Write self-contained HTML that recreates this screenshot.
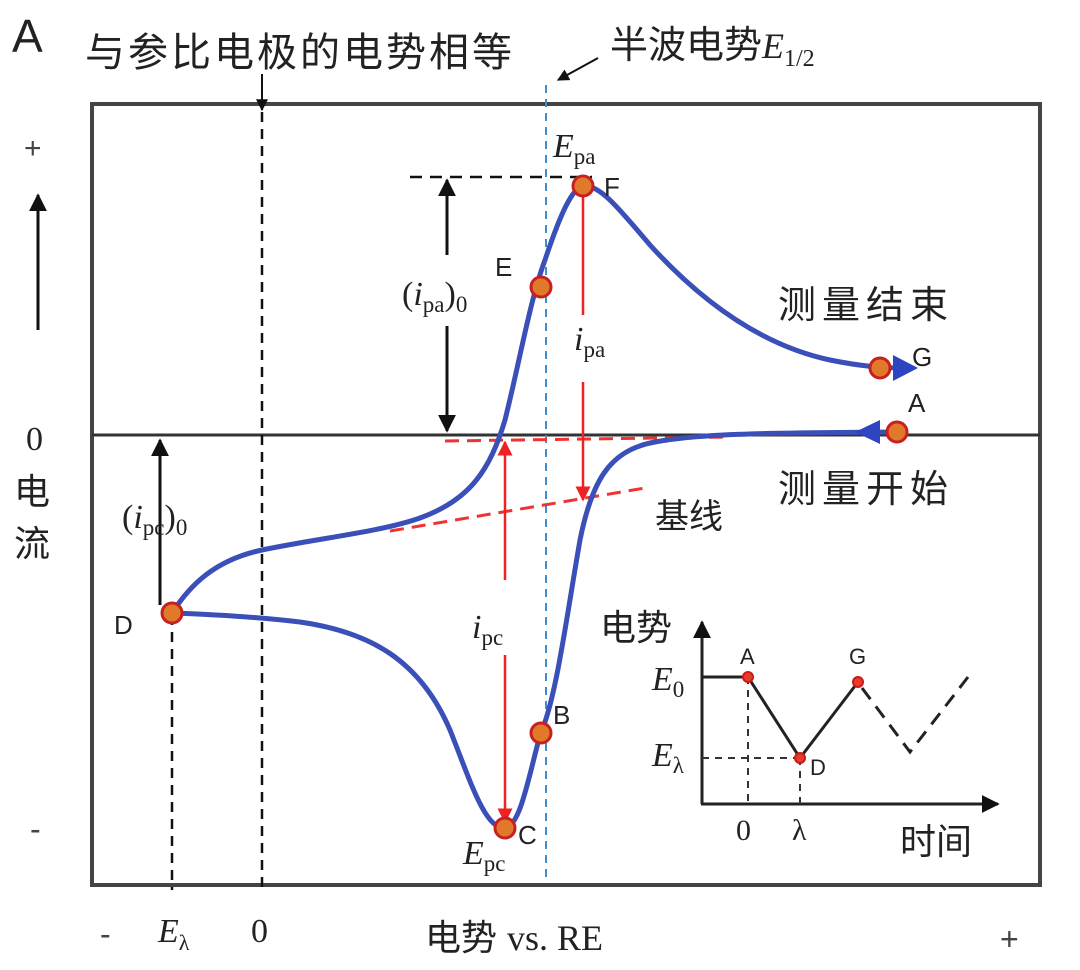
<!DOCTYPE html>
<html><head><meta charset="utf-8"><style>
html,body{margin:0;padding:0;background:#fff}
svg{display:block}
.cn{font-family:"Liberation Sans","Noto Sans CJK SC",sans-serif}
.se{font-family:"Liberation Serif",serif}
.sa{font-family:"Liberation Sans",sans-serif}
</style></head><body>
<svg width="1080" height="970" viewBox="0 0 1080 970" xmlns="http://www.w3.org/2000/svg">
<defs>
<marker id="ab" viewBox="0 0 10 10" refX="9" refY="5" markerWidth="6" markerHeight="6" orient="auto-start-reverse"><path d="M0,0L10,5L0,10z" fill="#111"/></marker>
<marker id="ar" viewBox="0 0 10 10" refX="9" refY="5" markerWidth="6" markerHeight="6" orient="auto-start-reverse"><path d="M0,0L10,5L0,10z" fill="#e22"/></marker>
</defs>
<rect x="92" y="104" width="948" height="781" fill="none" stroke="#444" stroke-width="4"/>
<line x1="92" y1="435" x2="1040" y2="435" stroke="#333" stroke-width="3"/>
<text x="12" y="52" class="sa" font-size="46" fill="#222">A</text>
<text x="85" y="66" class="cn" font-size="40" letter-spacing="3" fill="#222">与参比电极的电势相等</text>
<line x1="262" y1="74" x2="262" y2="110" stroke="#111" stroke-width="2" marker-end="url(#ab)"/>
<text x="610" y="58" class="cn" font-size="38" fill="#222">半波电势<tspan class="se" font-style="italic" font-size="36">E</tspan><tspan class="se" font-size="24" dy="8">1/2</tspan></text>
<line x1="598" y1="58" x2="558" y2="80" stroke="#111" stroke-width="2" marker-end="url(#ab)"/>
<line x1="262" y1="112" x2="262" y2="890" stroke="#111" stroke-width="2.5" stroke-dasharray="10,7"/>
<line x1="172" y1="615" x2="172" y2="890" stroke="#111" stroke-width="2.5" stroke-dasharray="10,7"/>
<line x1="546" y1="85" x2="546" y2="880" stroke="#3a8fd0" stroke-width="2" stroke-dasharray="8,6"/>
<line x1="410" y1="177" x2="592" y2="177" stroke="#111" stroke-width="2.5" stroke-dasharray="12,8"/>
<text x="24" y="158" class="sa" font-size="30" fill="#444">+</text>
<line x1="38" y1="330" x2="38" y2="195" stroke="#111" stroke-width="3" marker-end="url(#ab)"/>
<text x="26" y="450" class="se" font-size="34" fill="#222">0</text>
<text x="14" y="504" class="cn" font-size="36" fill="#222">电</text>
<text x="14" y="556" class="cn" font-size="36" fill="#222">流</text>
<text x="30" y="840" class="sa" font-size="32" fill="#444">-</text>
<text x="100" y="945" class="sa" font-size="32" fill="#444">-</text>
<text x="158" y="942" class="se" font-size="34" font-style="italic" fill="#222">E<tspan font-size="22" font-style="normal" dy="8">λ</tspan></text>
<text x="251" y="942" class="se" font-size="34" fill="#222">0</text>
<text x="425" y="950" class="cn" font-size="36" fill="#222">电势 <tspan class="se">vs. RE</tspan></text>
<text x="1000" y="950" class="sa" font-size="32" fill="#444">+</text>
<line x1="445" y1="441" x2="730" y2="437" stroke="#e33" stroke-width="3" stroke-dasharray="14,8"/>
<line x1="390" y1="531" x2="645" y2="488" stroke="#e33" stroke-width="3" stroke-dasharray="14,8"/>
<path d="M172,613 C190,585 215,560 262,550 C320,538 380,532 420,518 C470,500 490,470 505,420 C520,360 530,300 545,260 C560,215 572,188 583,186 C600,184 620,210 650,245 C700,300 760,345 830,360 C860,366 880,368 905,368" fill="none" stroke="#3a4fb8" stroke-width="5"/>
<path d="M893,432 C800,433 700,432 650,443 C610,452 592,480 580,540 C566,620 556,700 540,735 C528,780 520,826 505,828 C485,830 470,780 450,730 C420,660 370,632 300,622 C250,616 200,614 172,613" fill="none" stroke="#3a4fb8" stroke-width="5"/>
<path d="M893,368 L918,368 L893,381z M893,368 L918,368 L893,355z" fill="#2f44c0"/>
<path d="M880,432 L855,432 L880,420z M880,432 L855,432 L880,444z" fill="#2f44c0"/>
<line x1="583" y1="190" x2="583" y2="315" stroke="#e22" stroke-width="2.5"/>
<line x1="583" y1="382" x2="583" y2="500" stroke="#e22" stroke-width="2.5" marker-end="url(#ar)"/>
<line x1="505" y1="580" x2="505" y2="442" stroke="#e22" stroke-width="2.5" marker-end="url(#ar)"/>
<line x1="505" y1="655" x2="505" y2="822" stroke="#e22" stroke-width="2.5" marker-end="url(#ar)"/>
<line x1="447" y1="255" x2="447" y2="180" stroke="#111" stroke-width="3" marker-end="url(#ab)"/>
<line x1="447" y1="326" x2="447" y2="431" stroke="#111" stroke-width="3" marker-end="url(#ab)"/>
<line x1="160" y1="605" x2="160" y2="440" stroke="#111" stroke-width="3" marker-end="url(#ab)"/>
<text x="402" y="305" class="se" font-size="34" fill="#222">(<tspan font-style="italic">i</tspan><tspan font-size="23" dy="7">pa</tspan><tspan dy="-7">)</tspan><tspan font-size="23" dy="7">0</tspan></text>
<text x="122" y="528" class="se" font-size="34" fill="#222">(<tspan font-style="italic">i</tspan><tspan font-size="23" dy="7">pc</tspan><tspan dy="-7">)</tspan><tspan font-size="23" dy="7">0</tspan></text>
<text x="574" y="350" class="se" font-size="34" font-style="italic" fill="#222">i<tspan font-size="23" font-style="normal" dy="7">pa</tspan></text>
<text x="472" y="638" class="se" font-size="34" font-style="italic" fill="#222">i<tspan font-size="23" font-style="normal" dy="7">pc</tspan></text>
<text x="553" y="157" class="se" font-size="34" font-style="italic" fill="#222">E<tspan font-size="23" font-style="normal" dy="7">pa</tspan></text>
<text x="463" y="864" class="se" font-size="34" font-style="italic" fill="#222">E<tspan font-size="23" font-style="normal" dy="7">pc</tspan></text>
<text x="778" y="318" class="cn" font-size="38" letter-spacing="6" fill="#222">测量结束</text>
<text x="778" y="502" class="cn" font-size="38" letter-spacing="6" fill="#222">测量开始</text>
<text x="655" y="528" class="cn" font-size="34" fill="#222">基线</text>
<g class="sa" font-size="26" fill="#222">
<text x="604" y="196">F</text><text x="495" y="276">E</text><text x="912" y="366">G</text><text x="908" y="412">A</text>
<text x="114" y="634">D</text><text x="553" y="724">B</text><text x="518" y="844">C</text></g>
<g stroke="#c82020" stroke-width="3" fill="#e07a2a">
<circle cx="583" cy="186" r="10"/><circle cx="541" cy="287" r="10"/><circle cx="880" cy="368" r="10"/><circle cx="897" cy="432" r="10"/>
<circle cx="172" cy="613" r="10"/><circle cx="541" cy="733" r="10"/><circle cx="505" cy="828" r="10"/></g>
<text x="600" y="640" class="cn" font-size="36" fill="#222">电势</text>
<line x1="702" y1="804" x2="702" y2="622" stroke="#222" stroke-width="3" marker-end="url(#ab)"/>
<line x1="701" y1="804" x2="998" y2="804" stroke="#222" stroke-width="3" marker-end="url(#ab)"/>
<polyline points="702,677 748,677 800,758 858,682" fill="none" stroke="#222" stroke-width="3"/>
<polyline points="862,688 910,752 968,677" fill="none" stroke="#222" stroke-width="3" stroke-dasharray="14,9"/>
<line x1="748" y1="677" x2="748" y2="804" stroke="#333" stroke-width="2" stroke-dasharray="7,6"/>
<line x1="800" y1="758" x2="800" y2="804" stroke="#333" stroke-width="2" stroke-dasharray="7,6"/>
<line x1="702" y1="758" x2="800" y2="758" stroke="#333" stroke-width="2" stroke-dasharray="7,6"/>
<g fill="#e0402a" stroke="#d01818" stroke-width="2"><circle cx="748" cy="677" r="5"/><circle cx="800" cy="758" r="5"/><circle cx="858" cy="682" r="5"/></g>
<text x="652" y="690" class="se" font-size="34" font-style="italic" fill="#222">E<tspan font-size="23" font-style="normal" dy="7">0</tspan></text>
<text x="652" y="766" class="se" font-size="34" font-style="italic" fill="#222">E<tspan font-size="23" font-style="normal" dy="7">λ</tspan></text>
<g class="sa" font-size="22" fill="#222"><text x="740" y="664">A</text><text x="849" y="664">G</text><text x="810" y="775">D</text></g>
<text x="736" y="840" class="se" font-size="30" fill="#222">0</text>
<text x="792" y="840" class="se" font-size="30" fill="#222">λ</text>
<text x="900" y="854" class="cn" font-size="36" fill="#222">时间</text>
</svg>
</body></html>
